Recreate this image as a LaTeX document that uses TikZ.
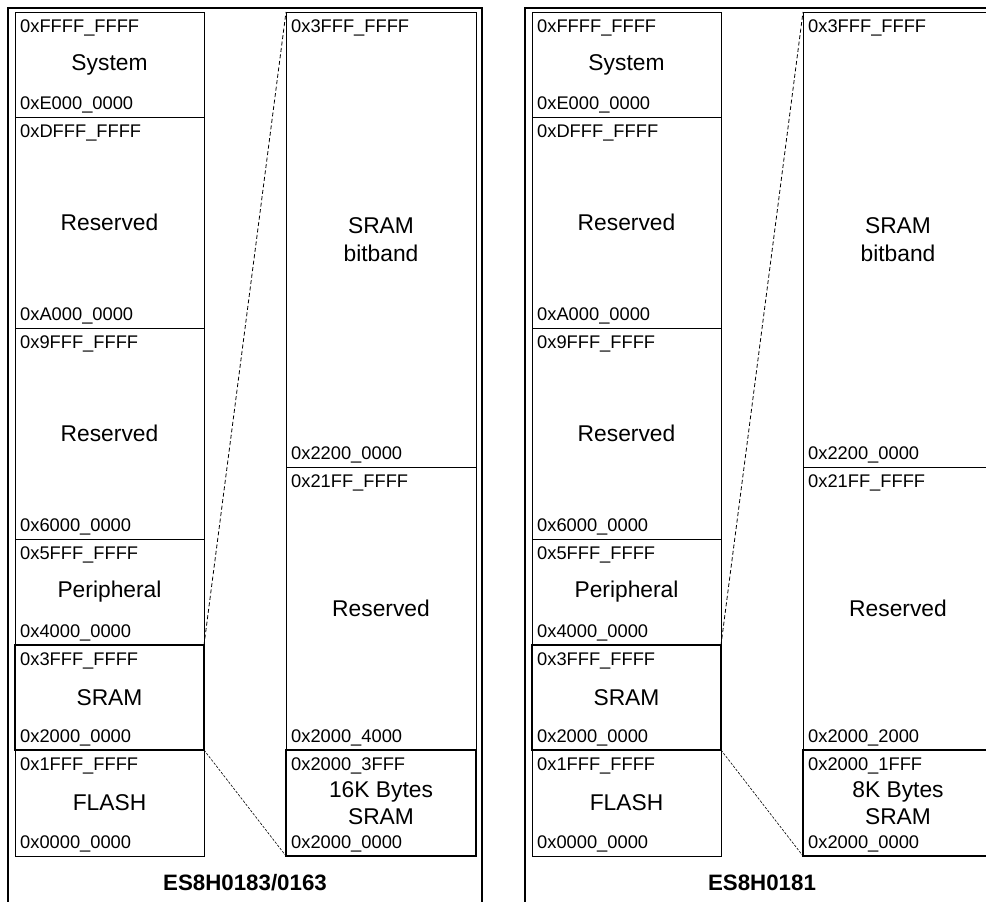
\documentclass[tikz,border=0pt]{standalone}
\usepackage{fontspec}
\setmainfont{Liberation Sans}
\newcommand\addrfont{\fontsize{18.3}{22}\selectfont}
\newcommand\namefont{\fontsize{22.8}{27.5}\selectfont}
\newcommand\titlefont{\fontsize{22.3}{26}\selectfont\bfseries}
\tikzset{
  blk/.style={draw, rectangle, line width=1pt, inner sep=0pt, outer sep=0pt, font=\namefont, align=center},
  thk/.style={line width=2pt},
  addr/.style={font=\addrfont, inner sep=0pt, anchor=base west},
  frame/.style={line width=2pt},
  zoomA/.style={dash pattern=on 4pt off 2.5pt, line width=0.8pt},
  zoomB/.style={dash pattern=on 2.5pt off 1.5pt, line width=0.6pt},
  ttl/.style={font=\titlefont, inner sep=0pt, anchor=base}
}
\newcommand\memblk[7]{%
  \node[blk,#6,minimum width={(#4-#2)*1pt},minimum height={(#5-#3)*1pt}] (#1) at ({(#2+#4)/2},{(#3+#5)/2}) {#7};}
\newcommand\hilbl[2]{\node[addr] (#1-hi) at ([xshift=5pt,yshift=-20pt]#1.north west) {#2};}
\newcommand\lolbl[2]{\node[addr] (#1-lo) at ([xshift=5pt,yshift=8pt]#1.south west) {#2};}
\newcommand\mempanel[6]{%
  \begin{scope}[xshift=#2pt]
    \draw[frame] (8,930) -- (8,8) -- (482,8) -- (482,930);
    \memblk{#1sys}{15}{12}{204}{117}{}{System}
    \memblk{#1resA}{15}{117}{204}{328}{}{Reserved}
    \memblk{#1resB}{15}{328}{204}{539}{}{Reserved}
    \memblk{#1per}{15}{539}{204}{645}{}{Peripheral}
    \memblk{#1fl}{15}{750}{204}{856}{}{FLASH}
    \memblk{#1sram}{15}{645}{204}{750}{thk}{SRAM}
    \memblk{#1bb}{286}{12}{476}{467}{}{SRAM\\bitband}
    \memblk{#1resC}{286}{467}{476}{750}{}{Reserved}
    \memblk{#1small}{286}{750}{476}{856}{thk}{#6 Bytes\\SRAM}
    \hilbl{#1sys}{0xFFFF\_FFFF}\lolbl{#1sys}{0xE000\_0000}
    \hilbl{#1resA}{0xDFFF\_FFFF}\lolbl{#1resA}{0xA000\_0000}
    \hilbl{#1resB}{0x9FFF\_FFFF}\lolbl{#1resB}{0x6000\_0000}
    \hilbl{#1per}{0x5FFF\_FFFF}\lolbl{#1per}{0x4000\_0000}
    \hilbl{#1sram}{0x3FFF\_FFFF}\lolbl{#1sram}{0x2000\_0000}
    \hilbl{#1fl}{0x1FFF\_FFFF}\lolbl{#1fl}{0x0000\_0000}
    \hilbl{#1bb}{0x3FFF\_FFFF}\lolbl{#1bb}{0x2200\_0000}
    \hilbl{#1resC}{0x21FF\_FFFF}\lolbl{#1resC}{#4}
    \hilbl{#1small}{#5}\lolbl{#1small}{0x2000\_0000}
    \draw[zoomA] (#1sram.north east) -- (#1bb.north west);
    \draw[zoomB] (#1sram.south east) -- (#1small.south west);
    \node[ttl] (#1title) at (245,890) {#3};
  \end{scope}}
\begin{document}
\begin{tikzpicture}[x=1pt,y=-1pt]
  \useasboundingbox (0,0) rectangle (986,902);
  \clip (0,0) rectangle (986,902);
  \fill[white] (0,0) rectangle (986,902);
  \mempanel{L}{0}{ES8H0183/0163}{0x2000\_4000}{0x2000\_3FFF}{16K}
  \mempanel{R}{517}{ES8H0181}{0x2000\_2000}{0x2000\_1FFF}{8K}
\end{tikzpicture}
\end{document}
